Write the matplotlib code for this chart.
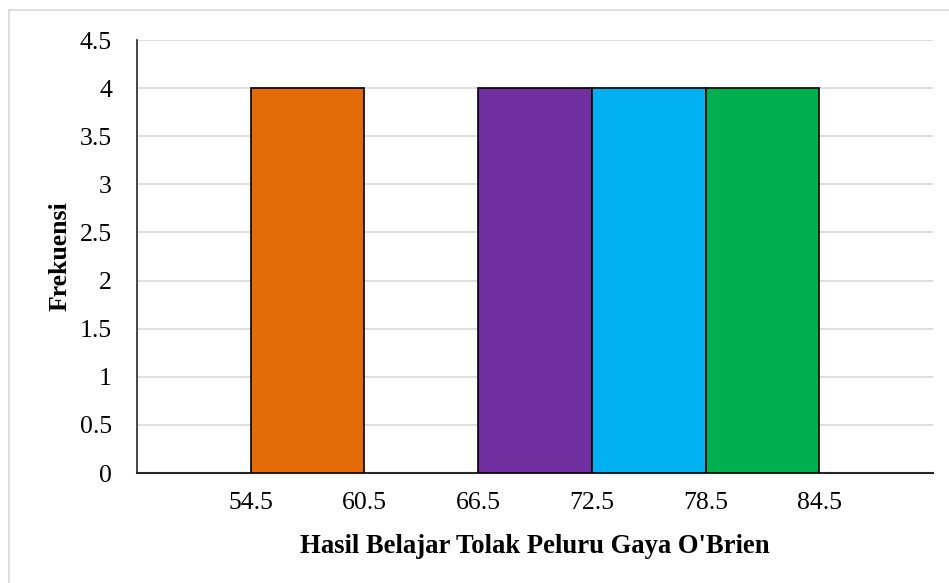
import matplotlib.pyplot as plt
from matplotlib.lines import Line2D

plt.rcParams['font.family'] = ['Liberation Serif', 'DejaVu Serif']

# class boundaries and frequencies
edges = [54.5, 60.5, 66.5, 72.5, 78.5, 84.5]
freq = [4, 0, 4, 4, 4]
colors = ['#E36C09', '#FFFFFF', '#7030A0', '#00B0F0', '#00B050']

fig = plt.figure(figsize=(9.49, 5.83), dpi=100)
ax = fig.add_axes([137/949, 1 - 473/583, (933 - 137)/949, (473 - 40)/583])

for i in range(len(freq)):
    if freq[i] > 0:
        ax.bar(edges[i], freq[i], width=edges[i+1] - edges[i], align='edge',
               color=colors[i], edgecolor='black', linewidth=1.2, zorder=3)

ax.set_xlim(48.5, 90.5)
ax.set_ylim(0, 4.5)
ax.set_yticks([0, 0.5, 1, 1.5, 2, 2.5, 3, 3.5, 4, 4.5])
ax.set_yticklabels(['0', '0.5', '1', '1.5', '2', '2.5', '3', '3.5', '4', '4.5'])
ax.set_xticks(edges)
ax.set_xticklabels([str(e) for e in edges])
ax.tick_params(length=0, labelsize=18.5, colors='black')
ax.tick_params(axis='x', pad=14)
ax.tick_params(axis='y', pad=18)
ax.grid(axis='y', color='#d9d9d9', linewidth=1.2, zorder=0)

ax.spines['top'].set_visible(False)
ax.spines['right'].set_visible(False)
ax.spines['left'].set_color('#262626')
ax.spines['bottom'].set_color('#262626')
ax.spines['left'].set_linewidth(1.2)
ax.spines['bottom'].set_linewidth(1.5)

ax.set_xlabel("Hasil Belajar Tolak Peluru Gaya O'Brien", fontsize=19.2,
              fontweight='bold', labelpad=14)
ax.set_ylabel('Frekuensi', fontsize=18.5, fontweight='bold', labelpad=6)

# chart area border
fig.add_artist(Line2D([9/949, 9/949], [0, 1 - 10/583], color='#d9d9d9', linewidth=1.2))
fig.add_artist(Line2D([9/949, 1], [1 - 10/583, 1 - 10/583], color='#d9d9d9', linewidth=1.2))

fig.savefig('out.png', dpi=100)
